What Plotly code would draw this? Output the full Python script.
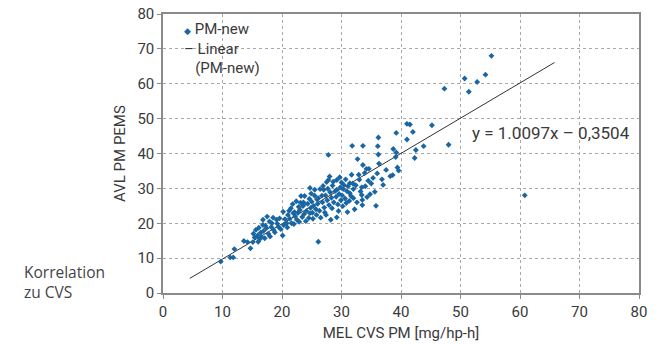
import plotly.graph_objects as go

pm_x = [9.7, 11.3, 11.8, 12.0, 13.6, 14.2, 14.7, 15.1, 15.4, 15.6, 16.0, 16.4, 16.8, 16.8, 17.5, 17.1, 18.0, 17.4, 18.3, 18.6,
        19.1, 19.6, 19.4, 15.9, 16.3, 16.9, 17.7, 18.2, 18.8, 19.2, 17.9, 16.5, 19.8, 17.2, 18.5, 15.2, 16.1,
        20.1, 20.2, 20.8, 21.0, 21.6, 21.9, 22.5, 23.0, 23.2, 23.8, 24.7, 25.0, 26.1, 25.8, 26.1, 20.5, 20.9, 21.3,
        21.5, 22.0, 22.2, 22.7, 22.9, 23.4, 23.5, 23.7, 24.1, 24.3, 24.5, 24.8, 25.1, 25.3, 25.5, 25.7, 26.0, 26.3,
        21.8, 22.4, 23.6, 24.0, 24.6, 25.2, 26.4, 24.7, 25.5, 23.6, 20.3, 21.2, 22.8, 26.5, 25.9, 24.9, 23.1, 22.1,
        27.0, 27.8, 27.8, 27.5, 29.2, 30.0, 31.4, 30.7, 31.7, 32.9, 33.9, 30.3, 29.2, 29.8, 31.4, 32.0, 33.4, 33.2,
        33.4, 32.0, 29.2, 27.4, 26.8, 27.1, 27.3, 27.6, 27.9, 28.1, 28.3, 28.5, 28.7, 28.9, 29.1, 29.4, 29.6, 29.9,
        30.1, 30.4, 30.6, 30.9, 31.1, 31.3, 31.6, 31.9, 32.2, 32.4, 26.7, 27.7, 28.4, 29.5, 30.2, 30.8, 28.0, 28.6,
        26.9, 29.7, 27.2, 28.2, 31.0, 32.6,
        33.5, 33.5, 35.8, 33.6, 34.2, 34.6, 36.3, 32.7, 36.2, 31.8, 33.6, 36.1, 36.2, 38.7, 39.2, 39.2, 39.1, 41.0,
        42.0, 41.0, 41.5, 42.5, 42.3, 39.4, 39.6, 38.2, 38.6, 36.8, 37.0, 34.0, 34.5, 35.0, 35.3, 35.6, 34.8, 36.0,
        37.5, 33.0, 34.3,
        43.8, 45.2, 48.0, 47.3, 50.7, 51.4, 52.8, 54.2, 55.2, 60.8]
pm_y = [9.0, 10.2, 10.2, 12.6, 14.9, 14.6, 12.8, 14.6, 15.9, 18.1, 14.7, 17.3, 21.0, 19.5, 21.9, 15.7, 16.2, 18.6, 20.0, 18.1,
        21.0, 21.4, 19.0, 16.5, 15.5, 17.8, 17.0, 18.9, 17.4, 19.9, 20.5, 16.2, 18.3, 19.3, 21.6, 17.0, 18.7,
        16.5, 23.3, 20.0, 22.4, 20.0, 22.9, 21.0, 23.8, 27.8, 27.8, 22.9, 26.2, 27.2, 22.4, 14.7, 21.2, 18.8, 21.3,
        24.3, 19.8, 22.0, 23.0, 20.4, 21.8, 24.9, 22.6, 23.5, 25.6, 21.5, 24.4, 23.0, 25.0, 27.9, 24.0, 25.6, 23.6,
        25.5, 26.3, 26.0, 20.6, 27.0, 21.3, 29.8, 30.1, 29.6, 25.3, 19.5, 23.6, 24.7, 21.6, 26.8, 28.5, 25.9, 23.2,
        29.6, 39.6, 32.4, 31.8, 32.4, 31.7, 31.5, 32.6, 33.9, 33.9, 34.4, 29.8, 29.6, 30.3, 28.6, 29.8, 30.3, 29.1,
        28.1, 27.2, 21.7, 22.4, 26.0, 24.5, 28.0, 26.6, 25.2, 28.9, 27.3, 30.8, 26.0, 29.2, 27.6, 25.4, 28.4, 26.6,
        28.0, 31.0, 27.1, 29.2, 30.6, 26.4, 27.8, 31.4, 24.0, 30.9, 27.9, 29.9, 24.3, 23.5, 24.9, 25.8, 33.4, 31.9,
        30.7, 33.2, 23.1, 21.0, 23.2, 26.0,
        26.7, 25.2, 25.0, 36.7, 35.6, 35.6, 37.1, 38.4, 39.7, 42.2, 42.2, 42.1, 44.6, 41.3, 45.9, 40.3, 39.0, 44.0,
        46.2, 48.5, 48.3, 41.0, 38.7, 36.0, 35.1, 33.5, 33.8, 32.6, 31.0, 30.6, 32.2, 31.4, 33.0, 29.0, 28.3, 34.3,
        35.3, 32.5, 27.5,
        42.1, 48.1, 42.5, 58.6, 61.5, 57.7, 60.5, 62.6, 68.0, 28.0]

fit_x = [4.5, 65.8]
slope = 1.0097
intercept = -0.3504
fit_y = [slope * v + intercept for v in fit_x]

x_ticks = [0, 10, 20, 30, 40, 50, 60, 70, 80]
y_ticks = [0, 10, 20, 30, 40, 50, 60, 70, 80]

FONT = "Roboto, sans-serif"
TXT = "#3a3a3a"
fig = go.Figure()
fig.add_trace(go.Scatter(x=fit_x, y=fit_y, mode="lines",
                         line=dict(color="#333333", width=1), showlegend=False, hoverinfo="skip"))
fig.add_trace(go.Scatter(x=pm_x, y=pm_y, mode="markers",
                         marker=dict(symbol="diamond", size=4.5, color="#1a66a3"),
                         showlegend=False))

axis_common = dict(showline=True, linecolor="#8a8a8a", linewidth=1.5, mirror=True,
                   showgrid=True, gridcolor="#a8a8a8", griddash="dot", gridwidth=1,
                   ticks="outside", ticklen=4, tickcolor="#8a8a8a", zeroline=False, automargin=False,
                   tickfont=dict(family=FONT, size=15, color=TXT))
fig.update_xaxes(range=[0, 80], tickvals=x_ticks, **axis_common,
                 title=dict(text="MEL CVS PM [mg/hp-h]", font=dict(family=FONT, size=15, color=TXT), standoff=8))
fig.update_yaxes(range=[0, 80], tickvals=y_ticks, **axis_common,
                 title=dict(text="AVL PM PEMS", font=dict(family=FONT, size=15, color=TXT), standoff=8))

fig.add_annotation(x=65.2, y=45.9, xref="x", yref="y", text="y = 1.0097x – 0,3504", showarrow=False,
                   font=dict(family=FONT, size=17, color=TXT), xanchor="center", yanchor="middle")
fig.add_annotation(x=0.04, y=0.985, xref="paper", yref="paper", showarrow=False, xanchor="left", yanchor="top",
                   align="left",
                   text="<span style='color:#1a66a3;font-size:9px'>◆</span> PM-new<br>– Linear<br>   (PM-new)",
                   font=dict(family=FONT, size=15, color=TXT))
fig.add_annotation(x=-0.296, y=0.04, xref="paper", yref="paper", showarrow=False, xanchor="left", yanchor="middle",
                   align="left", text="Korrelation<br>zu CVS",
                   font=dict(family="Open Sans, sans-serif", size=15.5, color="#444444"))

fig.update_layout(width=659, height=344, margin=dict(l=163, r=20, t=14, b=51),
                  paper_bgcolor="white", plot_bgcolor="white")
fig.write_html("out.html")
